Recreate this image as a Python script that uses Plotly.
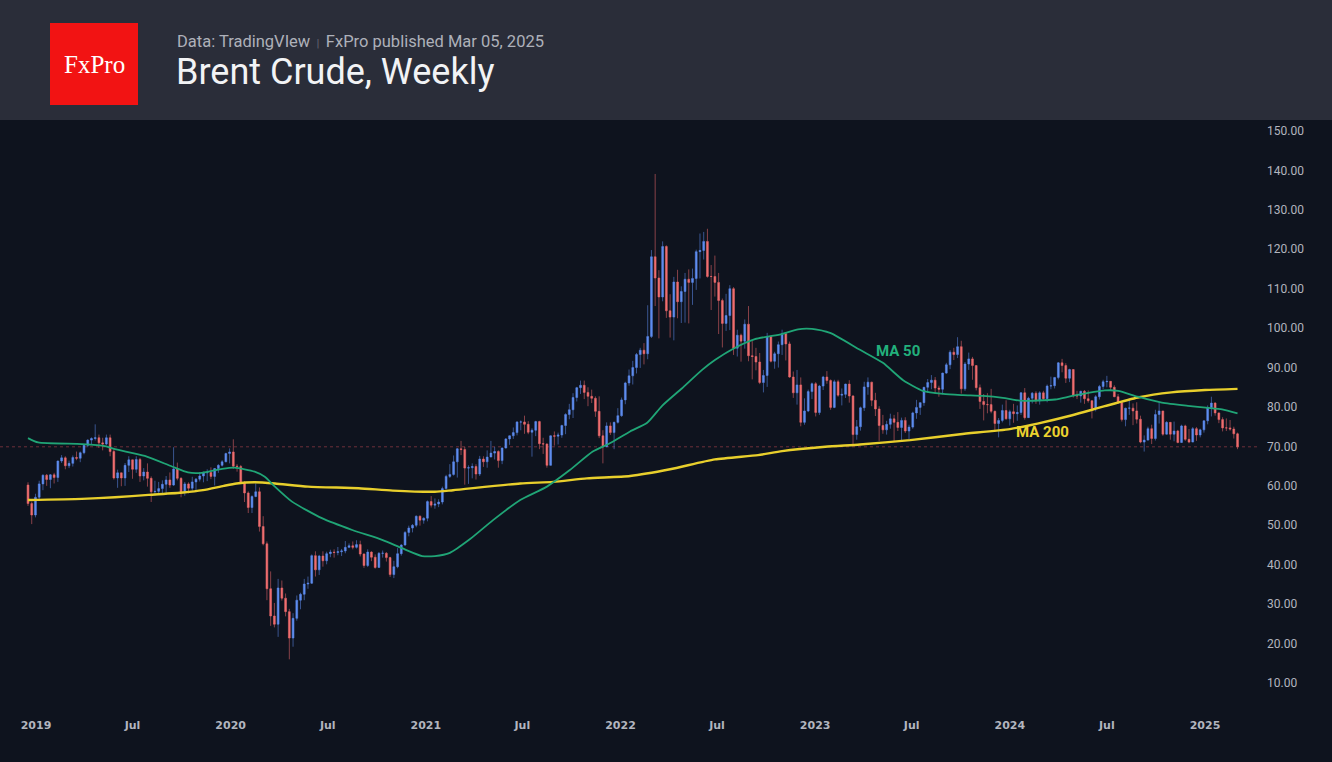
import plotly.graph_objects as go
import pandas as pd

# ---------------- data (weekly Brent) ----------------
first_week = "2018-12-17"
first_open = 60.2

closes = [
    55.5, 52.6, 57.1,
    # 2019
    60.5, 62.7, 61.6, 62.8, 62.1, 66.3, 67.1, 65.1, 65.7, 67.2, 67.0, 68.4, 70.3, 71.6, 72.0, 72.2, 70.9, 70.6,
    72.2, 68.7, 62.0, 63.3, 62.0, 65.2, 66.6, 64.2, 66.7, 62.5, 63.5, 61.9, 58.5, 58.6, 59.3, 60.4, 61.5, 60.2,
    64.3, 61.9, 58.4, 60.5, 59.4, 61.0, 61.7, 62.5, 63.3, 63.4, 62.4, 64.4, 65.2, 66.1, 68.2, 68.6,
    # 2020
    65.0, 64.9, 60.7, 58.2, 54.5, 57.3, 58.5, 49.7, 45.3, 33.9, 27.0, 24.9, 34.1, 31.5, 28.1, 21.4, 26.4, 31.0,
    32.5, 35.1, 35.3, 42.3, 38.7, 42.2, 41.0, 42.8, 43.2, 43.1, 43.3, 43.5, 44.4, 44.8, 44.4, 45.1, 42.7, 39.8,
    43.2, 41.9, 39.3, 42.9, 42.9, 41.8, 37.5, 39.5, 42.8, 45.0, 48.2, 49.3, 50.0, 52.3, 51.3, 51.8,
    # 2021
    56.0, 55.1, 55.4, 55.9, 59.3, 62.4, 62.9, 66.1, 69.4, 69.2, 64.5, 64.6, 64.9, 63.0, 66.8, 66.1, 67.3, 68.3,
    68.7, 66.4, 69.6, 71.9, 72.7, 73.5, 76.2, 76.2, 75.6, 73.6, 74.1, 76.3, 70.7, 70.6, 65.2, 72.7, 72.6, 72.9,
    75.3, 78.1, 79.3, 82.4, 84.9, 85.5, 83.7, 82.7, 82.2, 78.9, 72.7, 69.9, 75.2, 73.5, 76.1, 77.8,
    # 2022
    81.8, 86.1, 87.9, 90.0, 93.3, 94.4, 93.5, 97.9, 118.1, 112.7, 107.9, 120.7, 104.4, 102.8, 111.7, 106.7,
    109.3, 112.4, 111.6, 112.6, 119.4, 119.7, 122.0, 113.1, 113.1, 111.6, 107.0, 101.2, 103.2, 110.0, 94.9,
    98.2, 96.7, 101.0, 93.0, 92.8, 91.4, 86.2, 88.0, 97.9, 91.6, 93.5, 95.8, 98.6, 96.0, 87.6, 83.6, 85.6,
    76.1, 79.0, 83.9, 85.9,
    # 2023
    78.6, 85.3, 87.6, 86.7, 79.9, 86.4, 83.0, 83.2, 85.8, 82.8, 73.0, 75.0, 79.8, 85.1, 86.3, 81.7, 79.5, 75.3,
    74.2, 75.6, 77.0, 76.1, 74.8, 76.6, 73.9, 74.9, 78.5, 79.9, 81.1, 85.0, 86.2, 86.8, 84.8, 84.5, 88.6, 90.7,
    93.9, 93.3, 95.3, 84.6, 90.9, 92.2, 90.5, 84.9, 81.4, 80.6, 80.6, 78.9, 75.8, 76.6, 79.1, 77.0,
    # 2024
    78.8, 78.3, 78.6, 83.6, 77.3, 82.2, 83.5, 81.6, 83.6, 82.1, 85.3, 85.4, 87.5, 91.2, 90.5, 87.3, 89.5, 83.0,
    82.8, 84.0, 82.1, 81.6, 79.6, 82.6, 85.2, 86.4, 86.5, 85.0, 82.6, 81.1, 76.8, 79.7, 79.7, 79.0, 76.9, 71.1,
    71.6, 74.5, 72.0, 78.1, 79.0, 73.1, 76.1, 73.1, 73.9, 71.0, 75.2, 71.8, 71.1, 74.5, 72.9, 74.2, 76.5,
    # 2025
    79.8, 81.0, 78.5, 76.8, 74.7, 74.7, 74.4, 73.2, 69.9,
]

highs = [
    60.9, 56.0, 58.0,
    61.3, 62.9, 63.0, 63.0, 63.3, 66.4, 67.8, 67.5, 66.4, 67.7, 68.7, 68.7, 70.5, 71.8, 72.3, 75.6, 73.0, 72.2,
    73.0, 73.0, 69.3, 64.1, 63.2, 65.8, 67.5, 66.3, 67.5, 67.1, 64.5, 65.7, 62.4, 61.3, 61.0, 61.4, 62.5, 63.4,
    69.8, 65.9, 62.2, 61.0, 60.9, 62.3, 62.0, 63.5, 63.6, 64.2, 64.7, 64.5, 65.5, 66.5, 68.4, 69.5,
    71.8, 65.5, 65.3, 61.2, 58.6, 57.6, 60.6, 59.6, 52.3, 45.9, 38.3, 30.3, 36.4, 36.0, 32.7, 28.8, 27.7, 32.2,
    32.9, 36.4, 37.0, 42.6, 43.4, 42.5, 43.4, 43.3, 43.8, 43.9, 44.5, 44.0, 46.0, 45.4, 45.9, 46.2, 46.1, 42.9,
    43.9, 43.4, 42.6, 43.2, 43.6, 43.2, 42.0, 41.0, 44.2, 45.2, 48.5, 49.9, 50.3, 52.5, 52.5, 52.0,
    56.3, 57.4, 56.8, 56.6, 59.8, 62.8, 65.5, 67.7, 69.6, 71.4, 69.9, 65.2, 65.7, 65.5, 67.6, 67.5, 69.0, 71.4,
    69.9, 69.0, 69.7, 72.1, 72.8, 74.8, 76.4, 76.6, 77.8, 76.4, 74.6, 76.5, 76.5, 72.2, 70.8, 72.8, 73.8, 73.5,
    75.5, 78.4, 80.8, 83.5, 85.1, 86.7, 86.7, 85.0, 84.4, 82.7, 82.7, 74.1, 76.1, 76.1, 76.3, 79.7,
    82.4, 86.4, 89.5, 91.7, 93.7, 95.0, 96.2, 105.8, 119.8, 139.1, 114.7, 122.0, 121.0, 108.6, 113.0, 114.8,
    110.6, 114.0, 114.9, 115.1, 119.9, 124.0, 124.4, 125.2, 116.0, 118.4, 114.0, 107.5, 108.7, 110.9, 110.4,
    99.6, 98.6, 102.2, 105.6, 96.7, 95.0, 93.7, 89.4, 98.8, 98.0, 94.0, 96.6, 99.6, 99.0, 96.6, 89.0, 89.4,
    87.5, 82.2, 84.4, 86.2,
    86.3, 85.6, 87.9, 89.1, 87.0, 86.9, 86.9, 84.7, 85.9, 86.8, 83.0, 76.7, 80.1, 86.4, 87.5, 86.4, 83.6, 80.2,
    78.0, 76.5, 78.3, 78.0, 78.7, 77.3, 77.4, 75.5, 78.8, 81.8, 81.2, 85.1, 87.1, 88.1, 87.6, 85.4, 88.7, 91.2,
    94.4, 95.0, 97.7, 96.8, 91.4, 93.8, 92.7, 89.2, 85.7, 83.3, 83.5, 84.6, 79.1, 77.2, 80.6, 81.7,
    79.3, 80.8, 80.4, 83.8, 84.8, 82.6, 83.8, 84.0, 84.0, 84.1, 85.7, 87.7, 87.6, 91.4, 92.2, 91.1, 89.7, 89.2,
    84.1, 84.1, 84.3, 84.2, 81.7, 83.0, 85.6, 86.9, 87.9, 86.6, 85.5, 83.3, 81.5, 79.8, 82.2, 80.9, 81.2, 77.8,
    72.8, 75.0, 75.5, 79.3, 81.2, 78.4, 76.4, 76.2, 76.3, 74.2, 75.5, 75.5, 74.4, 74.9, 74.9, 74.5, 76.6,
    80.4, 82.6, 81.2, 78.6, 77.4, 77.1, 76.7, 75.0, 73.5,
]

lows = [
    54.9, 50.3, 52.0,
    56.5, 58.9, 60.0, 59.4, 60.6, 61.0, 65.8, 64.2, 64.5, 64.9, 66.5, 66.0, 68.0, 69.8, 70.6, 71.5, 69.6, 69.0,
    70.3, 67.5, 61.6, 59.5, 59.9, 60.0, 63.5, 61.8, 63.3, 61.0, 61.4, 59.8, 55.9, 57.5, 58.1, 57.9, 57.7, 59.5,
    60.0, 61.4, 57.1, 57.5, 58.1, 58.8, 58.4, 61.1, 60.9, 61.2, 61.7, 60.1, 63.3, 64.9, 66.0, 65.7,
    64.3, 63.6, 60.5, 55.9, 53.1, 53.1, 57.1, 48.4, 44.9, 31.0, 24.5, 24.1, 21.7, 30.9, 26.9, 16.0, 19.2, 25.8,
    28.7, 31.0, 33.9, 35.1, 37.0, 37.4, 39.5, 40.1, 41.9, 41.8, 42.4, 42.2, 42.9, 44.2, 43.9, 44.1, 42.1, 39.2,
    39.4, 40.9, 39.0, 39.3, 41.8, 40.8, 36.9, 36.6, 39.1, 42.3, 44.8, 47.2, 48.2, 49.5, 49.9, 50.4,
    51.0, 54.5, 54.2, 54.6, 55.3, 59.1, 62.0, 62.6, 62.1, 67.8, 60.3, 60.5, 61.9, 61.6, 62.5, 64.8, 64.6, 67.3,
    66.7, 64.6, 65.5, 69.5, 70.4, 71.9, 72.8, 74.1, 73.2, 73.1, 67.4, 72.6, 69.3, 68.1, 64.6, 65.5, 70.2, 70.5,
    72.2, 73.1, 76.9, 77.2, 81.4, 83.3, 82.0, 80.2, 81.0, 77.5, 72.1, 65.7, 70.3, 72.9, 69.3, 75.8,
    77.5, 80.7, 85.4, 85.7, 88.5, 89.9, 90.8, 92.1, 97.5, 105.6, 97.4, 106.8, 102.6, 97.6, 96.9, 102.5,
    101.3, 101.4, 101.2, 105.9, 109.7, 112.6, 117.4, 112.8, 104.6, 108.0, 98.5, 95.1, 99.3, 99.5, 93.2,
    92.8, 91.5, 94.8, 91.6, 87.0, 89.3, 85.8, 83.7, 85.1, 91.3, 89.7, 90.0, 93.2, 91.8, 87.4, 82.3, 80.6,
    75.1, 75.5, 78.7, 82.0,
    77.6, 78.0, 84.3, 85.9, 79.3, 79.7, 82.6, 80.4, 82.3, 81.1, 70.1, 71.7, 74.0, 79.0, 83.1, 80.2, 77.7, 71.4,
    73.2, 73.0, 74.5, 71.4, 73.9, 71.3, 73.4, 71.6, 74.5, 77.0, 78.0, 80.3, 83.6, 84.5, 83.3, 82.6, 83.2, 88.4,
    89.6, 91.9, 92.4, 83.4, 84.1, 89.4, 86.9, 84.2, 79.5, 76.6, 78.4, 78.4, 73.8, 72.3, 76.1, 76.8,
    75.3, 76.0, 76.5, 78.0, 76.8, 77.2, 80.9, 80.8, 80.6, 81.6, 81.2, 84.5, 84.7, 87.0, 88.8, 86.1, 86.3, 82.4,
    82.0, 81.1, 80.8, 81.1, 77.1, 78.9, 81.9, 84.5, 85.0, 84.1, 82.5, 80.8, 76.3, 75.1, 78.0, 75.4, 75.8, 70.8,
    68.7, 71.5, 70.6, 71.5, 75.8, 72.7, 73.0, 71.7, 71.3, 70.8, 71.9, 71.4, 70.8, 71.2, 71.4, 72.3, 73.5,
    75.6, 77.6, 77.8, 75.9, 73.8, 73.9, 74.0, 72.0, 69.3,
]

# 50-week moving average
ma50_dates = [
    "2018-12-17", "2019-01-05", "2019-03-28", "2019-05-10", "2019-05-29", "2019-07-24", "2019-09-13",
    "2019-10-13", "2019-11-08", "2019-12-16", "2020-01-08", "2020-02-15", "2020-03-05", "2020-03-24",
    "2020-04-25", "2020-06-20", "2020-08-16", "2020-10-11", "2020-11-17", "2020-12-25", "2021-01-18",
    "2021-02-15", "2021-03-25", "2021-05-07", "2021-06-27", "2021-08-16", "2021-09-28", "2021-11-10",
    "2021-12-12", "2022-01-19", "2022-02-20", "2022-03-20", "2022-04-26", "2022-06-03", "2022-06-27",
    "2022-07-29", "2022-09-10", "2022-10-31", "2022-11-30", "2022-12-26", "2023-01-29", "2023-03-26",
    "2023-05-08", "2023-06-15", "2023-07-22", "2023-08-29", "2023-10-05", "2023-11-12", "2023-12-19",
    "2024-01-20", "2024-03-26", "2024-04-27", "2024-06-27", "2024-07-22", "2024-08-28", "2024-10-12",
    "2024-11-30", "2025-01-07", "2025-02-02", "2025-03-03",
]
ma50_values = [
    72.1, 71.0, 70.6, 70.1, 69.3, 67.6, 64.9,
    63.4, 63.3, 64.3, 64.6, 63.6, 62.3, 59.8,
    56.0, 51.8, 48.8, 46.3, 44.2, 42.2, 42.2,
    43.0, 46.5, 51.3, 56.4, 59.8, 64.0, 68.7,
    70.8, 73.8, 76.0, 80.3, 84.7, 89.4, 91.9,
    94.6, 97.2, 98.5, 99.7, 99.8, 98.8, 94.5,
    91.2, 86.8, 84.1, 83.3, 83.0, 82.8, 82.3,
    81.6, 81.9, 82.8, 84.2, 84.1, 82.6, 81.1,
    80.3, 79.8, 79.4, 78.4,
]

# 200-week moving average
ma200_dates = [
    "2018-12-17", "2019-03-28", "2019-05-29", "2019-07-31", "2019-10-04", "2019-11-10", "2019-12-19",
    "2020-01-12", "2020-02-15", "2020-03-24", "2020-05-25", "2020-08-28", "2020-10-31", "2021-01-18",
    "2021-02-21", "2021-06-27", "2021-08-28", "2021-10-30", "2022-01-19", "2022-04-04", "2022-06-27",
    "2022-09-16", "2022-10-31", "2023-01-20", "2023-03-26", "2023-06-28", "2023-09-30", "2024-01-01",
    "2024-02-22", "2024-04-27", "2024-06-27", "2024-08-28", "2024-10-30", "2025-01-01", "2025-03-03",
]
ma200_values = [
    56.4, 56.7, 57.1, 57.7, 58.3, 58.9, 60.0,
    60.6, 60.9, 60.6, 59.8, 59.4, 58.8, 58.5,
    58.9, 60.6, 61.0, 61.9, 62.5, 64.2, 66.7,
    67.8, 68.8, 69.9, 70.5, 71.6, 73.1, 74.4,
    75.8, 77.9, 80.2, 82.4, 83.7, 84.3, 84.6,
]

y_ticks = [10, 20, 30, 40, 50, 60, 70, 80, 90, 100, 110, 120, 130, 140, 150]
x_tick_dates = ["2019-01-01", "2019-07-01", "2020-01-01", "2020-07-01", "2021-01-01", "2021-07-01",
                "2022-01-01", "2022-07-01", "2023-01-01", "2023-07-01", "2024-01-01", "2024-07-01",
                "2025-01-01"]
x_tick_text = ["2019", "Jul", "2020", "Jul", "2021", "Jul", "2022", "Jul", "2023", "Jul", "2024", "Jul",
               "2025"]

# ---------------- figure ----------------
dates = pd.date_range(first_week, periods=len(closes), freq="7D")
opens = [first_open] + closes[:-1]

BG = "#0e131e"
HEADER = "#2a2d39"
W, H = 1332, 762
ML, MR, MT, MB = 0, 82, 125, 50
PW, PH = W - ML - MR, H - MT - MB


def px(x):
    return (x - ML) / PW


def py(y):
    return (H - MB - y) / PH


fig = go.Figure()

fig.add_trace(go.Candlestick(
    x=dates, open=opens, high=highs, low=lows, close=closes,
    increasing=dict(line=dict(color="rgba(92,138,236,0.55)", width=1), fillcolor="#5f8ef0"),
    decreasing=dict(line=dict(color="rgba(236,104,108,0.55)", width=1), fillcolor="#ef7070"),
    whiskerwidth=0, showlegend=False, hoverinfo="skip",
))

fig.add_trace(go.Scatter(
    x=pd.to_datetime(ma200_dates), y=ma200_values, mode="lines",
    line=dict(color="#e8cf2c", width=2.4, shape="spline", smoothing=0.6),
    showlegend=False, hoverinfo="skip",
))
fig.add_trace(go.Scatter(
    x=pd.to_datetime(ma50_dates), y=ma50_values, mode="lines",
    line=dict(color="#20a576", width=1.8, shape="spline", smoothing=0.6),
    showlegend=False, hoverinfo="skip",
))

shapes = [
    # header band
    dict(type="rect", xref="paper", yref="paper", x0=px(0), x1=px(W), y0=py(120), y1=py(0),
         fillcolor=HEADER, line=dict(width=0), layer="above"),
    # logo
    dict(type="rect", xref="paper", yref="paper", x0=px(50), x1=px(138), y0=py(105), y1=py(23),
         fillcolor="#f21313", line=dict(width=0), layer="above"),
    # last price dotted line
    dict(type="line", xref="paper", yref="y", x0=0, x1=px(1260), y0=closes[-1], y1=closes[-1],
         line=dict(color="rgba(150,60,70,0.7)", width=1, dash="dot"), layer="below"),
]

annotations = [
    dict(text="FxPro", xref="paper", yref="paper", x=px(94), y=py(64), showarrow=False,
         xanchor="center", yanchor="middle",
         font=dict(family="Liberation Serif, DejaVu Serif, serif", size=25, color="white")),
    dict(text="Data: TradingVIew <span style='font-size:10px;color:#6d707a'> | </span> FxPro published Mar 05, 2025",
         xref="paper", yref="paper", x=px(175), y=py(41), showarrow=False, xanchor="left", yanchor="middle",
         font=dict(family="Roboto, sans-serif", size=16.5, color="#aeb1ba")),
    dict(text="Brent Crude, Weekly", xref="paper", yref="paper", x=px(174), y=py(72), showarrow=False,
         xanchor="left", yanchor="middle",
         font=dict(family="Roboto, sans-serif", size=36, color="#f2f3f5")),
    dict(text="<b>MA 50</b>", x=pd.Timestamp("2023-06-05"), y=94.2, xref="x", yref="y", showarrow=False,
         xanchor="center", yanchor="middle", font=dict(family="Roboto, sans-serif", size=15, color="#22b07c")),
    dict(text="<b>MA 200</b>", x=pd.Timestamp("2024-03-03"), y=73.7, xref="x", yref="y", showarrow=False,
         xanchor="center", yanchor="middle", font=dict(family="Roboto, sans-serif", size=15, color="#ecd22e")),
]

k = 1169 / 2192  # px per day
x_start = pd.Timestamp("2019-01-01") - pd.Timedelta(days=36 / k)
x_end = pd.Timestamp("2025-01-01") + pd.Timedelta(days=(PW - 1205) / k)
y_top = 10 + (683 - MT) / 3.943
y_bot = 10 + (683 - (H - MB)) / 3.943

fig.update_layout(
    width=W, height=H,
    margin=dict(l=ML, r=MR, t=MT, b=MB, pad=0),
    paper_bgcolor=BG, plot_bgcolor=BG,
    shapes=shapes, annotations=annotations,
    showlegend=False,
    xaxis=dict(
        type="date", range=[x_start, x_end], rangeslider=dict(visible=False),
        showgrid=False, zeroline=False, showline=False, ticks="",
        tickmode="array", tickvals=pd.to_datetime(x_tick_dates), ticktext=x_tick_text,
        tickfont=dict(family="DejaVu Sans, sans-serif", size=11, color="#b2b5be", weight="bold"),
        ticklabelstandoff=5,
    ),
    yaxis=dict(
        side="right", range=[y_bot, y_top], showgrid=False, zeroline=False, showline=False, ticks="",
        tickmode="array", tickvals=y_ticks, tickformat=".2f",
        tickfont=dict(family="Roboto, sans-serif", size=12, color="#b2b5be"),
        ticklabelstandoff=16,
    ),
)

fig.write_html(
    "out.html",
    config={"displayModeBar": False},
    post_script="document.body.style.margin='0';document.body.style.background='" + BG + "';"
                "document.body.style.overflow='hidden';",
)
